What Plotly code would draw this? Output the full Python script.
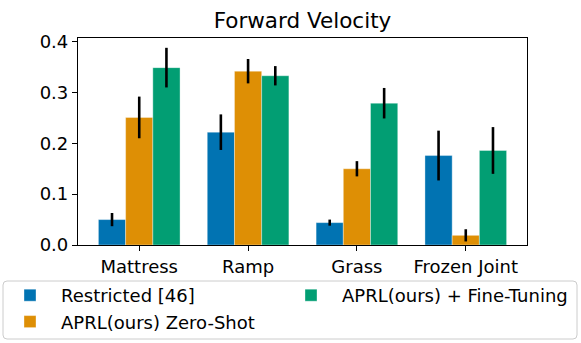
import plotly.graph_objects as go

# Datos
categorias = ["Mattress", "Ramp", "Grass", "Frozen Joint"]

restricted = [0.050, 0.222, 0.044, 0.176]
restricted_err = [0.013, 0.035, 0.006, 0.049]

zero_shot = [0.251, 0.342, 0.150, 0.019]
zero_shot_err = [0.041, 0.024, 0.015, 0.012]

fine_tuning = [0.349, 0.333, 0.279, 0.186]
fine_tuning_err = [0.039, 0.019, 0.030, 0.046]

series = [
    ("Restricted [46]", restricted, restricted_err, "#0173b2", "legend"),
    ("APRL(ours) Zero-Shot", zero_shot, zero_shot_err, "#de8f05", "legend"),
    ("APRL(ours) + Fine-Tuning", fine_tuning, fine_tuning_err, "#029e73", "legend2"),
]

FUENTE = "DejaVu Sans"
ANCHO, ALTO = 581, 343

# área del gráfico en píxeles (para colocar leyendas y el recuadro)
L, T, R, B = 78, 38, 527, 245
W, H = R - L, B - T


def px_x(x):
    return (x - L) / W


def px_y(y):
    return (B - y) / H


fig = go.Figure()
for nombre, valores, errores, color, leyenda in series:
    fig.add_trace(go.Bar(
        x=categorias,
        y=valores,
        name=nombre,
        marker=dict(color=color, line=dict(color="rgba(255,255,255,0.6)", width=0.6)),
        error_y=dict(type="data", array=errores, color="black", thickness=2.6, width=0),
        legend=leyenda,
    ))

leyenda_base = dict(
    orientation="v",
    xanchor="left",
    yanchor="top",
    y=px_y(277),
    itemwidth=52,
    borderwidth=0,
    bgcolor="rgba(0,0,0,0)",
    font=dict(family=FUENTE, size=18),
    traceorder="normal",
)

# recuadro común de las dos leyendas, con esquinas redondeadas
x0, x1, y0, y1, rad = 3, 577, 281, 339, 4
rx, ry = rad / W, rad / H
X0, X1, Y0, Y1 = px_x(x0), px_x(x1), px_y(y1), px_y(y0)
recuadro = (
    f"M {X0 + rx},{Y0} L {X1 - rx},{Y0} Q {X1},{Y0} {X1},{Y0 + ry} "
    f"L {X1},{Y1 - ry} Q {X1},{Y1} {X1 - rx},{Y1} "
    f"L {X0 + rx},{Y1} Q {X0},{Y1} {X0},{Y1 - ry} "
    f"L {X0},{Y0 + ry} Q {X0},{Y0} {X0 + rx},{Y0} Z"
)

fig.update_layout(
    width=ANCHO,
    height=ALTO,
    # márgenes fijos: las leyendas no deben empujar el área del gráfico
    margin=dict(l=L, r=ANCHO - R, t=T, b=ALTO - B, autoexpand=False),
    paper_bgcolor="white",
    plot_bgcolor="white",
    font=dict(family=FUENTE, size=18, color="black"),
    barmode="group",
    bargap=0.25,
    bargroupgap=0,
    title=dict(
        text="Forward Velocity",
        x=0.5,
        xref="paper",
        xanchor="center",
        y=1 - 20 / ALTO,
        yref="container",
        yanchor="middle",
        font=dict(family=FUENTE, size=21.5, color="black"),
    ),
    xaxis=dict(
        type="category",
        range=[-0.5625, 3.5625],
        showline=True,
        linecolor="black",
        linewidth=1.2,
        mirror=True,
        ticks="outside",
        ticklen=5,
        tickwidth=1.2,
        tickcolor="black",
        showgrid=False,
        tickfont=dict(family=FUENTE, size=18),
        automargin=False,
    ),
    yaxis=dict(
        range=[0, 0.4073],
        tickvals=[0.0, 0.1, 0.2, 0.3, 0.4],
        tickformat=".1f",
        showline=True,
        linecolor="black",
        linewidth=1.2,
        mirror=True,
        ticks="outside",
        ticklen=5,
        tickwidth=1.2,
        tickcolor="black",
        showgrid=False,
        zeroline=False,
        tickfont=dict(family=FUENTE, size=18),
        automargin=False,
    ),
    legend=dict(leyenda_base, x=px_x(-1)),
    legend2=dict(leyenda_base, x=px_x(280)),
    shapes=[dict(
        type="path",
        xref="paper",
        yref="paper",
        path=recuadro,
        line=dict(color="#cccccc", width=1),
        fillcolor="rgba(0,0,0,0)",
        layer="below",
    )],
)

# quitar el margen por defecto del <body> para que la figura quede en (0, 0)
fig.write_html(
    "out.html",
    config={"displayModeBar": False},
    post_script="document.body.style.margin='0';",
)
